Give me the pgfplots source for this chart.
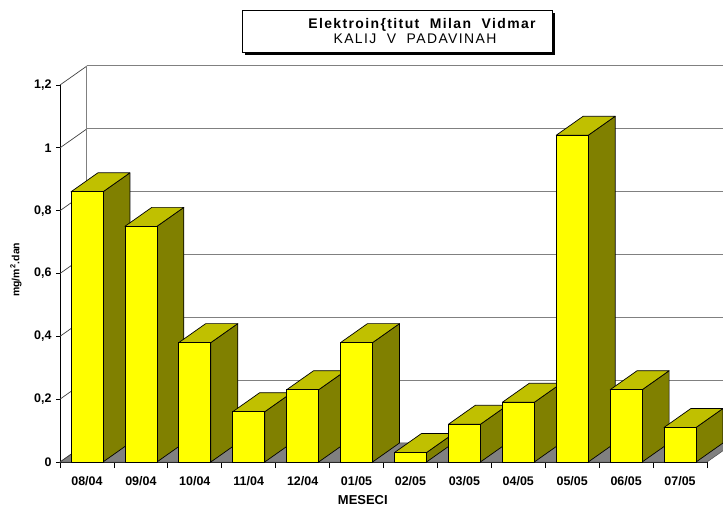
\documentclass[border=0pt]{standalone}
\usepackage{pgfplots}
\pgfplotsset{compat=1.18}
\usepackage{pgfplotstable}
\usepackage{fontspec}
\setmainfont{Liberation Sans}
\definecolor{barfront}{HTML}{FFFF00}
\definecolor{barside}{HTML}{808000}
\definecolor{bartop}{HTML}{C0C000}
\definecolor{floorgray}{HTML}{808080}
\definecolor{gridgray}{HTML}{808080}

\pgfplotstableread{
idx v
0 0.86
1 0.75
2 0.38
3 0.16
4 0.23
5 0.38
6 0.03
7 0.12
8 0.19
9 1.04
10 0.23
11 0.11
}\datatable

\begin{document}
\begin{tikzpicture}[x=1bp,y=1bp]
\begin{axis}[
  scale only axis,
  width=647bp, height=377bp,
  xmin=-0.5, xmax=11.5,
  ymin=0, ymax=1.2,
  clip=false,
  axis lines=left,
  axis line style={black, line width=0.8pt, -},
  xtick={0,...,11},
  xticklabels={08/04,09/04,10/04,11/04,12/04,01/05,02/05,03/05,04/05,05/05,06/05,07/05},
  major x tick style={draw=none},
  minor xtick={-0.5,0.5,...,11.5},
  minor tick length=6bp,
  minor x tick style={black, line width=0.8pt},
  ytick={0,0.2,0.4,0.6,0.8,1,1.2},
  major tick length=4bp,
  y tick style={black, line width=0.8pt},
  tick align=outside,
  /pgf/number format/assume math mode=true,
  /pgf/number format/.cd, use comma, fixed, precision=1, /pgfplots/.cd,
  tick label style={font=\fontsize{12.5}{14}\selectfont\bfseries},
  xticklabel style={anchor=center, yshift=-15bp},
  yticklabel style={xshift=-1bp},
  xlabel={MESECI},
  xlabel style={font=\fontsize{13}{14}\selectfont\bfseries, at={(axis description cs:0.468,0)}, anchor=center, yshift=-38.5bp},
  ylabel={mg/m\textsuperscript{2}.dan},
  ylabel style={font=\fontsize{10.5}{12}\selectfont\bfseries, at={(axis description cs:0,0.51)}, anchor=center, yshift=44bp},
]
\coordinate (O) at (rel axis cs:0,0);
% back wall grid
\pgfplotsforeachungrouped \yy in {0.2,0.4,0.6,0.8,1.0,1.2} {
  \pgfmathsetmacro\yb{\yy+0.0605}
  \edef\temp{%
    \noexpand\draw[gridgray, line width=1pt] (axis cs:0,\yb) -- (axis cs:12,\yb);
    \noexpand\draw[black!75, line width=0.7pt] (axis cs:-0.5,\yy) -- (axis cs:0,\yb);
  }\temp
}
\draw[gridgray, line width=1pt] (axis cs:0,0.0605) -- (axis cs:0,1.2605);
% floor
\addplot[fill=floorgray, draw=black!70, line width=0.5pt, forget plot, mark=none]
  coordinates {(-0.5,0) (11.5,0) (12.0,0.0605) (0.0,0.0605)} -- cycle;
\draw[black!75, line width=0.7pt] (axis cs:-0.5,0) -- (axis cs:0,0.0605);
% bars
\pgfplotsforeachungrouped \i in {0,...,11}{
  \pgfplotstablegetelem{\i}{v}\of\datatable
  \pgfmathsetmacro\vv{\pgfplotsretval}
  \pgfmathsetmacro\xl{\i-0.297}
  \pgfmathsetmacro\xr{\i+0.297}
  \pgfmathsetmacro\xlb{\i-0.297+0.5}
  \pgfmathsetmacro\xrb{\i+0.297+0.5}
  \pgfmathsetmacro\vb{\vv+0.0605}
  \edef\temp{%
    \noexpand\addplot[fill=barside, draw=black, line width=0.7pt, line join=round, forget plot, mark=none]
      coordinates {(\xr,0) (\xrb,0.0605) (\xrb,\vb) (\xr,\vv)} -- cycle;
    \noexpand\addplot[fill=bartop, draw=black, line width=0.7pt, line join=round, forget plot, mark=none]
      coordinates {(\xl,\vv) (\xr,\vv) (\xrb,\vb) (\xlb,\vb)} -- cycle;
    \noexpand\addplot[fill=barfront, draw=black, line width=0.7pt, line join=round, forget plot, mark=none]
      coordinates {(\xl,0) (\xr,0) (\xr,\vv) (\xl,\vv)} -- cycle;
  }\temp
}
\end{axis}
% title box
\fill[black] ([shift={(185bp,407bp)}]O) rectangle ([shift={(495bp,449bp)}]O);
\filldraw[fill=white, draw=black, line width=0.8pt] ([shift={(182bp,410bp)}]O) rectangle ([shift={(492bp,452bp)}]O);
\node[font=\fontsize{14}{16}\selectfont\bfseries\addfontfeatures{LetterSpace=10}, anchor=base] at ([shift={(362bp,433bp)}]O) {Elektroin\{titut\ \ Milan\ \ Vidmar};
\node[font=\fontsize{14}{16}\selectfont\addfontfeatures{LetterSpace=10}, anchor=base] at ([shift={(355bp,418bp)}]O) {KALIJ\ \ V\ \ PADAVINAH};
\pgfresetboundingbox
\path[use as bounding box] ([shift={(-60bp,-46bp)}]O) rectangle ([shift={(663bp,462bp)}]O);
\end{tikzpicture}
\end{document}
